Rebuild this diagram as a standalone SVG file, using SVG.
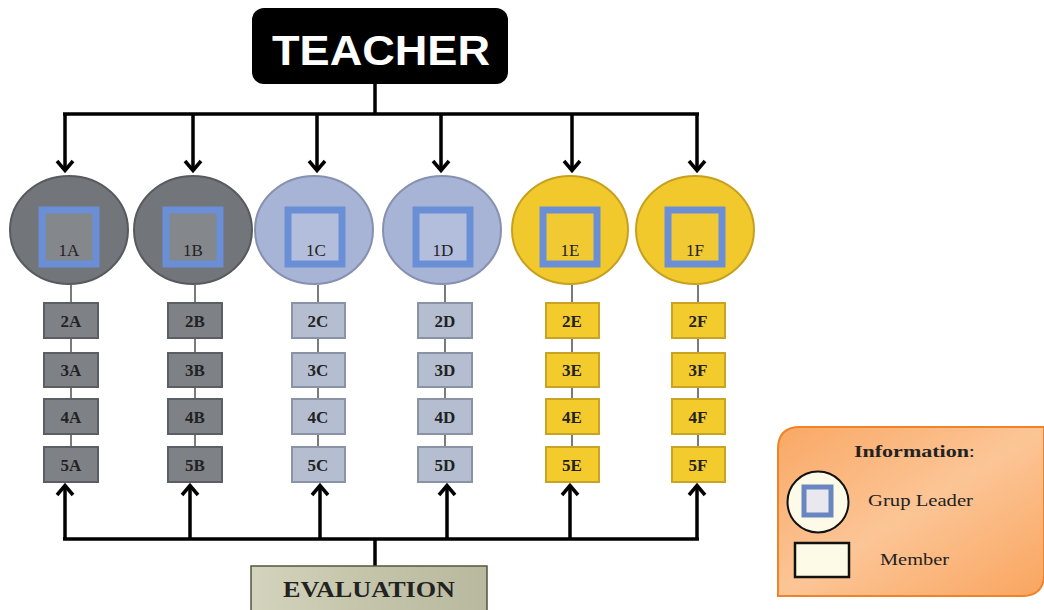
<svg xmlns="http://www.w3.org/2000/svg" width="1044" height="610" viewBox="0 0 1044 610">
<defs>
<style>
.lead{font-family:"Liberation Serif","DejaVu Serif",serif;font-size:17px;fill:#222;text-anchor:middle}
.mem{font-family:"Liberation Serif","DejaVu Serif",serif;font-size:17px;font-weight:bold;fill:#222;text-anchor:middle}
.wire{stroke:#000;stroke-width:3.5;fill:none}
.thin{stroke:#333;stroke-width:1.3}
.cg{fill:#72757a;stroke:#575a5e;stroke-width:2}
.cb{fill:#a8b4d5;stroke:#8690b0;stroke-width:2}
.cy{fill:#f2c92c;stroke:#c7a01e;stroke-width:2}
.sq{stroke:#6b8fd6;stroke-width:7}
.mg{fill:#7e8287;stroke:#5b5e62;stroke-width:2}
.mb{fill:#b5bed0;stroke:#8a93a5;stroke-width:2}
.my{fill:#f4cb2d;stroke:#c9a323;stroke-width:2}
.leg{font-family:"Liberation Serif","DejaVu Serif",serif;font-size:17px;fill:#222}
</style>
<marker id="ah" viewBox="0 0 14 20" refX="12" refY="10" markerWidth="14" markerHeight="20" markerUnits="userSpaceOnUse" orient="auto-start-reverse">
<path d="M2,2 L11.5,10 L2,18" fill="none" stroke="#000" stroke-width="3.5"/>
</marker>
<linearGradient id="og" x1="0" y1="0" x2="1" y2="1">
<stop offset="0" stop-color="#f9a865"/>
<stop offset="0.5" stop-color="#fcc596"/>
<stop offset="1" stop-color="#f9a55f"/>
</linearGradient>
<linearGradient id="eg" x1="0" y1="0" x2="1" y2="0">
<stop offset="0" stop-color="#d4d3bd"/>
<stop offset="0.5" stop-color="#c4c4aa"/>
<stop offset="1" stop-color="#b9b9a0"/>
</linearGradient>
</defs>
<rect width="1044" height="610" fill="#ffffff"/>

<g id="connectors">
<path class="wire" d="M375,84 V114 M63,114 H699"/>
<line class="wire" x1="65" y1="114" x2="65" y2="171" marker-end="url(#ah)"/>
<line class="wire" x1="193" y1="114" x2="193" y2="171" marker-end="url(#ah)"/>
<line class="wire" x1="317" y1="114" x2="317" y2="171" marker-end="url(#ah)"/>
<line class="wire" x1="441" y1="114" x2="441" y2="171" marker-end="url(#ah)"/>
<line class="wire" x1="572" y1="114" x2="572" y2="171" marker-end="url(#ah)"/>
<line class="wire" x1="697" y1="114" x2="697" y2="171" marker-end="url(#ah)"/>
<path class="wire" d="M375,566 V539 M63,539 H699"/>
<line class="wire" x1="65" y1="539" x2="65" y2="485" marker-end="url(#ah)"/>
<line class="wire" x1="190" y1="539" x2="190" y2="485" marker-end="url(#ah)"/>
<line class="wire" x1="320" y1="539" x2="320" y2="485" marker-end="url(#ah)"/>
<line class="wire" x1="447" y1="539" x2="447" y2="485" marker-end="url(#ah)"/>
<line class="wire" x1="570" y1="539" x2="570" y2="485" marker-end="url(#ah)"/>
<line class="wire" x1="697" y1="539" x2="697" y2="485" marker-end="url(#ah)"/>
<line class="thin" x1="71" y1="285" x2="71" y2="447"/>
<line class="thin" x1="195" y1="285" x2="195" y2="447"/>
<line class="thin" x1="318" y1="285" x2="318" y2="447"/>
<line class="thin" x1="445" y1="285" x2="445" y2="447"/>
<line class="thin" x1="572" y1="285" x2="572" y2="447"/>
<line class="thin" x1="698" y1="285" x2="698" y2="447"/>
</g>

<g id="teacher">
<rect x="252" y="8" width="256" height="76" rx="12" fill="#000"/>
<text x="381" y="65" font-family="Liberation Sans,Arial,sans-serif" font-size="42" font-weight="bold" fill="#fff" text-anchor="middle" textLength="218" lengthAdjust="spacingAndGlyphs">TEACHER</text>
</g>

<g id="leader-1A"><ellipse class="cg" cx="69" cy="230" rx="59" ry="54"/><rect class="sq" x="42" y="210" width="54" height="54" fill="#84878c"/><text class="lead" x="69" y="256">1A</text></g>
<g id="leader-1B"><ellipse class="cg" cx="193" cy="230" rx="59" ry="54"/><rect class="sq" x="166" y="210" width="54" height="54" fill="#84878c"/><text class="lead" x="193" y="256">1B</text></g>
<g id="leader-1C"><ellipse class="cb" cx="314" cy="230" rx="59" ry="54"/><rect class="sq" x="288" y="210" width="54" height="54" fill="#b3bddc"/><text class="lead" x="316" y="256">1C</text></g>
<g id="leader-1D"><ellipse class="cb" cx="442" cy="230" rx="59" ry="54"/><rect class="sq" x="416" y="210" width="54" height="54" fill="#b3bddc"/><text class="lead" x="443" y="256">1D</text></g>
<g id="leader-1E"><ellipse class="cy" cx="570" cy="230" rx="58" ry="54"/><rect class="sq" x="543" y="210" width="54" height="54" fill="#f0c933"/><text class="lead" x="570" y="256">1E</text></g>
<g id="leader-1F"><ellipse class="cy" cx="695" cy="230" rx="59" ry="54"/><rect class="sq" x="668" y="210" width="54" height="54" fill="#f0c933"/><text class="lead" x="695" y="256">1F</text></g>

<g id="members-A">
<rect class="mg" x="44" y="303" width="54" height="35"/><text class="mem" x="71" y="327">2A</text>
<rect class="mg" x="44" y="353" width="54" height="34"/><text class="mem" x="71" y="376">3A</text>
<rect class="mg" x="44" y="399" width="54" height="35"/><text class="mem" x="71" y="423">4A</text>
<rect class="mg" x="44" y="447" width="54" height="35"/><text class="mem" x="71" y="471">5A</text>
</g>
<g id="members-B">
<rect class="mg" x="168" y="303" width="54" height="35"/><text class="mem" x="195" y="327">2B</text>
<rect class="mg" x="168" y="353" width="54" height="34"/><text class="mem" x="195" y="376">3B</text>
<rect class="mg" x="168" y="399" width="54" height="35"/><text class="mem" x="195" y="423">4B</text>
<rect class="mg" x="168" y="447" width="54" height="35"/><text class="mem" x="195" y="471">5B</text>
</g>
<g id="members-C">
<rect class="mb" x="292" y="303" width="53" height="35"/><text class="mem" x="318" y="327">2C</text>
<rect class="mb" x="292" y="353" width="53" height="34"/><text class="mem" x="318" y="376">3C</text>
<rect class="mb" x="292" y="399" width="53" height="35"/><text class="mem" x="318" y="423">4C</text>
<rect class="mb" x="292" y="447" width="53" height="35"/><text class="mem" x="318" y="471">5C</text>
</g>
<g id="members-D">
<rect class="mb" x="418" y="303" width="54" height="35"/><text class="mem" x="445" y="327">2D</text>
<rect class="mb" x="418" y="353" width="54" height="34"/><text class="mem" x="445" y="376">3D</text>
<rect class="mb" x="418" y="399" width="54" height="35"/><text class="mem" x="445" y="423">4D</text>
<rect class="mb" x="418" y="447" width="54" height="35"/><text class="mem" x="445" y="471">5D</text>
</g>
<g id="members-E">
<rect class="my" x="546" y="303" width="53" height="35"/><text class="mem" x="572" y="327">2E</text>
<rect class="my" x="546" y="353" width="53" height="34"/><text class="mem" x="572" y="376">3E</text>
<rect class="my" x="546" y="399" width="53" height="35"/><text class="mem" x="572" y="423">4E</text>
<rect class="my" x="546" y="447" width="53" height="35"/><text class="mem" x="572" y="471">5E</text>
</g>
<g id="members-F">
<rect class="my" x="672" y="303" width="53" height="35"/><text class="mem" x="698" y="327">2F</text>
<rect class="my" x="672" y="353" width="53" height="34"/><text class="mem" x="698" y="376">3F</text>
<rect class="my" x="672" y="399" width="53" height="35"/><text class="mem" x="698" y="423">4F</text>
<rect class="my" x="672" y="447" width="53" height="35"/><text class="mem" x="698" y="471">5F</text>
</g>

<g id="evaluation">
<rect x="251" y="566" width="236" height="50" fill="url(#eg)" stroke="#55553f" stroke-width="1.5"/>
<text x="369" y="597" font-family="Liberation Serif,DejaVu Serif,serif" font-size="24" font-weight="bold" fill="#222" text-anchor="middle" textLength="172" lengthAdjust="spacingAndGlyphs">EVALUATION</text>
</g>

<g id="legend">
<path d="M800,427 H1044 V574 Q1044,596 1022,596 H778 V449 Q778,427 800,427 Z" fill="url(#og)" stroke="#f0832a" stroke-width="2"/>
<text class="leg" x="854" y="457" font-size="18" font-weight="bold" textLength="121" lengthAdjust="spacingAndGlyphs">Information<tspan font-weight="normal">:</tspan></text>
<circle cx="818" cy="502" r="30.5" fill="#fdfbe8" stroke="#111" stroke-width="2"/>
<rect x="804" y="487" width="27" height="28" fill="#e8e8ee" stroke="#6a86c0" stroke-width="5"/>
<text class="leg" x="868" y="506" textLength="105" lengthAdjust="spacingAndGlyphs">Grup Leader</text>
<rect x="795" y="543" width="54" height="34" fill="#fdfbe8" stroke="#111" stroke-width="2.5"/>
<text class="leg" x="880" y="565" textLength="69" lengthAdjust="spacingAndGlyphs">Member</text>
</g>
</svg>
